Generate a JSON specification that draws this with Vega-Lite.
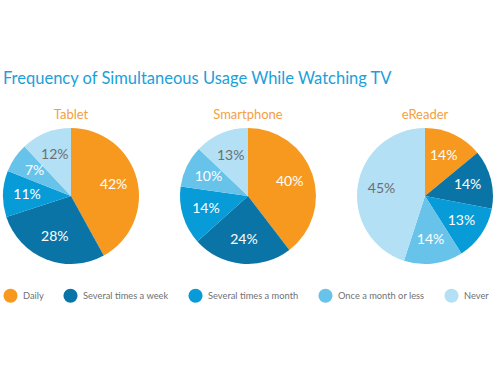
{
  "$schema": "https://vega.github.io/schema/vega-lite/v6.json",
  "padding": {"left": 3, "top": 70, "right": 4, "bottom": 5},
  "background": "white",
  "title": {
    "text": "Frequency of Simultaneous Usage While Watching TV",
    "anchor": "start",
    "color": "#1AA0DB",
    "fontSize": 16.5,
    "fontWeight": "normal",
    "font": "Lato",
    "offset": 22
  },
  "data": {
    "values": [
      {"device": "Tablet", "category": "Daily", "k": 1, "value": 0.42},
      {"device": "Tablet", "category": "Several times a week", "k": 2, "value": 0.28},
      {"device": "Tablet", "category": "Several times a month", "k": 3, "value": 0.11},
      {"device": "Tablet", "category": "Once a month or less", "k": 4, "value": 0.07},
      {"device": "Tablet", "category": "Never", "k": 5, "value": 0.12},
      {"device": "Smartphone", "category": "Daily", "k": 1, "value": 0.40},
      {"device": "Smartphone", "category": "Several times a week", "k": 2, "value": 0.24},
      {"device": "Smartphone", "category": "Several times a month", "k": 3, "value": 0.14},
      {"device": "Smartphone", "category": "Once a month or less", "k": 4, "value": 0.10},
      {"device": "Smartphone", "category": "Never", "k": 5, "value": 0.13},
      {"device": "eReader", "category": "Daily", "k": 1, "value": 0.14},
      {"device": "eReader", "category": "Several times a week", "k": 2, "value": 0.14},
      {"device": "eReader", "category": "Several times a month", "k": 3, "value": 0.13},
      {"device": "eReader", "category": "Once a month or less", "k": 4, "value": 0.14},
      {"device": "eReader", "category": "Never", "k": 5, "value": 0.45}
    ]
  },
  "facet": {
    "column": {
      "field": "device",
      "type": "nominal",
      "sort": ["Tablet", "Smartphone", "eReader"],
      "title": null,
      "header": {
        "labelColor": "#F5A040",
        "labelFontSize": 13,
        "labelFont": "Lato",
        "labelPadding": 6
      }
    }
  },
  "spacing": 41,
  "spec": {
    "width": 136,
    "height": 136,
    "layer": [
      {
        "mark": {"type": "arc", "stroke": null},
        "encoding": {
          "theta": {"field": "value", "type": "quantitative", "stack": true},
          "order": {"field": "k", "type": "quantitative"},
          "color": {
            "field": "category",
            "type": "nominal",
            "scale": {
              "domain": ["Daily", "Several times a week", "Several times a month", "Once a month or less", "Never"],
              "range": ["#F7991E", "#0A74A7", "#079BD8", "#67C3EA", "#B3E0F4"]
            },
            "legend": {
              "title": null,
              "orient": "bottom",
              "direction": "horizontal",
              "symbolType": "circle",
              "symbolSize": 200,
              "symbolStrokeWidth": 0,
              "labelFontSize": 9.3,
              "labelFont": "Lato",
              "labelColor": "#707173",
              "columnPadding": 19,
              "labelOffset": 5,
              "offset": 24
            }
          }
        }
      },
      {
        "mark": {"type": "text", "radius": 44, "fontSize": 14, "font": "Lato"},
        "encoding": {
          "theta": {"field": "value", "type": "quantitative", "stack": true},
          "order": {"field": "k", "type": "quantitative"},
          "text": {"field": "value", "type": "quantitative", "format": ".0%"},
          "color": {
            "condition": {"test": "datum.category === 'Never'", "value": "#6D6E70"},
            "value": "white"
          }
        }
      }
    ]
  },
  "config": {
    "view": {"stroke": null}
  }
}
